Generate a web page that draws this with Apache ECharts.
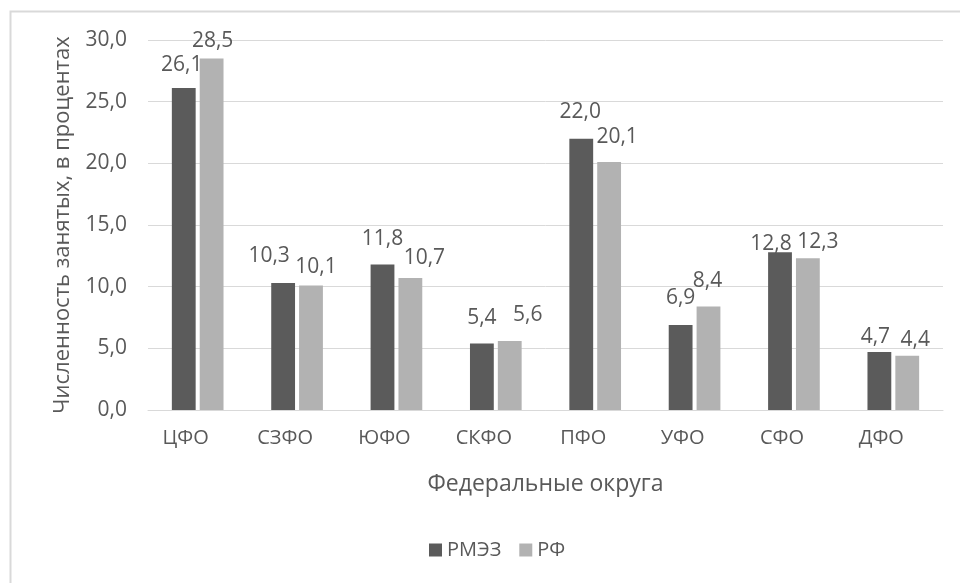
<!DOCTYPE html>
<html>
<head>
<meta charset="utf-8">
<script src="https://cdn.jsdelivr.net/npm/echarts@6/dist/echarts.min.js"></script>
<style>
  html, body { margin: 0; padding: 0; background: #ffffff; }
  #chart { width: 960px; height: 583px; }
</style>
</head>
<body>
<div id="chart"></div>
<script>
// Federal districts and employment shares (%)
const districts = ['ЦФО', 'СЗФО', 'ЮФО', 'СКФО', 'ПФО', 'УФО', 'СФО', 'ДФО'];
const rmezValues = [26.1, 10.3, 11.8, 5.4, 22.0, 6.9, 12.8, 4.7];
const rfValues = [28.5, 10.1, 10.7, 5.6, 20.1, 8.4, 12.3, 4.4];
const seriesNames = ['РМЭЗ', 'РФ'];

// Hand-placed nudges [dx, dy] for value labels so neighbours don't collide
const rmezLabelShift = [[-2, 2], [-14, -1], [0, 0], [0, 0], [-1, -1], [0, -1], [-9, 17], [-4, 10]];
const rfLabelShift = [[1, 8], [5, 7], [14, 5], [18, 0], [8, 0], [-1, 0], [10, 9], [8, 10]];

const FONT = '"Open Sans", "Noto Sans", sans-serif';
const TEXT = '#595959';
const fmt = v => Number(v).toFixed(1).replace('.', ',');

const chart = echarts.init(document.getElementById('chart'), null, { renderer: 'canvas' });

const labelCfg = {
  show: true,
  position: 'top',
  distance: 15,
  color: TEXT,
  fontFamily: FONT,
  fontSize: 21,
  formatter: p => fmt(p.value)
};

const withShift = (values, shifts) =>
  values.map((v, i) => ({ value: v, label: { offset: shifts[i] } }));

chart.setOption({
  backgroundColor: '#ffffff',
  animation: false,
  graphic: [{
    type: 'rect',
    shape: { x: 10.5, y: 11.5, width: 1000, height: 700 },
    style: { fill: 'none', stroke: '#d9d9d9', lineWidth: 2 },
    silent: true
  }],
  grid: { left: 148, right: 17, top: 40, bottom: 173, containLabel: false },
  legend: {
    data: seriesNames,
    bottom: 18,
    left: 424,
    itemWidth: 13,
    itemHeight: 13,
    itemGap: 18,
    icon: 'rect',
    textStyle: { color: TEXT, fontFamily: FONT, fontSize: 20 }
  },
  xAxis: {
    type: 'category',
    data: districts,
    name: 'Федеральные округа',
    nameLocation: 'middle',
    nameGap: 63,
    nameTextStyle: { color: TEXT, fontFamily: FONT, fontSize: 23 },
    axisLine: { lineStyle: { color: '#d9d9d9', width: 1 } },
    axisTick: { show: false },
    axisLabel: { color: TEXT, fontFamily: FONT, fontSize: 20, margin: 18, padding: [0, 24, 0, 0] }
  },
  yAxis: {
    type: 'value',
    min: 0,
    max: 30,
    interval: 5,
    name: 'Численность занятых, в процентах',
    nameLocation: 'middle',
    nameGap: 74,
    nameTextStyle: { color: TEXT, fontFamily: FONT, fontSize: 22 },
    axisLine: { show: false },
    axisTick: { show: false },
    splitLine: { lineStyle: { color: '#d9d9d9', width: 1 } },
    axisLabel: { color: TEXT, fontFamily: FONT, fontSize: 21, margin: 21, formatter: v => fmt(v) }
  },
  series: [
    {
      name: seriesNames[0],
      type: 'bar',
      data: withShift(rmezValues, rmezLabelShift),
      barGap: '17%',
      barCategoryGap: '48%',
      itemStyle: { color: '#5b5b5b' },
      label: labelCfg
    },
    {
      name: seriesNames[1],
      type: 'bar',
      data: withShift(rfValues, rfLabelShift),
      itemStyle: { color: '#b2b2b2' },
      label: labelCfg
    }
  ]
});
</script>
</body>
</html>
